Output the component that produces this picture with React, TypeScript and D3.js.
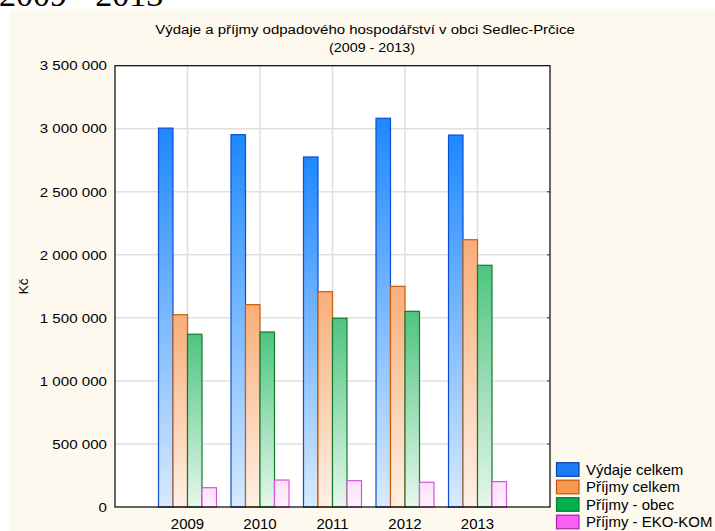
import React from "react";
import * as d3 from "d3";

const years = [2009, 2010, 2011, 2012, 2013];
const seriesNames = ["Výdaje celkem", "Příjmy celkem", "Příjmy - obec", "Příjmy - EKO-KOM"];
const vydajeCelkem = [3005000, 2953000, 2776000, 3083000, 2950000];
const prijmyCelkem = [1525000, 1605000, 1708000, 1750000, 2120000];
const prijmyObec = [1370000, 1388000, 1497000, 1552000, 1917000];
const prijmyEkoKom = [153000, 214000, 209000, 196000, 201000];
const yTicks = [0, 500000, 1000000, 1500000, 2000000, 2500000, 3000000, 3500000];

const series = [vydajeCelkem, prijmyCelkem, prijmyObec, prijmyEkoKom];
const gradTop = ["#1e88ff", "#f9ae78", "#4fc480", "#fde0fa"];
const gradBottom = ["#d8eafe", "#fff0e6", "#e6f7ec", "#fff2fd"];
const strokes = ["#0a4fd0", "#c8600e", "#127a2a", "#d455d8"];
const legendFill = ["#1a7df5", "#f79a50", "#00b04f", "#f95ff5"];
const legendStroke = ["#0a3fb0", "#c0560c", "#0a7a30", "#b020b0"];

const W = 715, H = 531;
const L = 115, R = 550, T = 65.7, B = 507;
const FONT = "'Liberation Sans', Arial, Helvetica, sans-serif";

function Txt(props: { x: number; y: number; anchor?: string; size: number; sx?: number; dy?: string; children: React.ReactNode }) {
  const { x, y, anchor = "start", size, sx = 1.1, dy, children } = props;
  return (
    <g transform={`translate(${x},${y}) scale(${sx},1)`}>
      <text x={0} y={0} dy={dy} textAnchor={anchor} fontFamily={FONT} fontSize={size} fill="#000">{children}</text>
    </g>
  );
}

export default function App() {
  const x = d3.scaleLinear().domain([2008, 2014]).range([L, R]);
  const y = d3.scaleLinear().domain([0, 3500000]).range([B, T]);
  const step = x(2009) - x(2008);
  const bw = step * 0.2;
  const fmt = (v: number) => d3.format(",")(v).replace(/,/g, " ");
  return (
    <div style={{ position: "absolute", left: 0, top: 0 }}>
      <svg width={W} height={H} style={{ display: "block" }}>
        <defs>
          {series.map((_, i) => (
            <linearGradient key={i} id={`g${i}`} x1="0" y1="0" x2="0" y2="1">
              <stop offset="0" stopColor={gradTop[i]} />
              <stop offset="1" stopColor={gradBottom[i]} />
            </linearGradient>
          ))}
        </defs>
        <rect x={0} y={0} width={W} height={H} fill="#ffffff" />
        <text x={-1} y={6} fontFamily="'Liberation Serif', 'Times New Roman', serif" fontSize={34} fill="#000">2009 - 2013</text>
        <rect x={9} y={9} width={W - 9} height={H - 9} fill="#fdf9ee" />
        <rect x={L} y={T} width={R - L} height={B - T} fill="#ffffff" />
        {yTicks.slice(1, -1).map((t) => (
          <line key={t} x1={L} x2={R} y1={y(t)} y2={y(t)} stroke="#e0e0e0" strokeWidth={1.5} />
        ))}
        {years.map((yr) => (
          <line key={yr} x1={x(yr)} x2={x(yr)} y1={T} y2={B} stroke="#e0e0e0" strokeWidth={1.5} />
        ))}
        {years.map((yr, j) =>
          series.map((s, i) => {
            const x0 = x(yr) - 2 * bw + i * bw;
            return (
              <rect key={`${yr}-${i}`} x={x0} y={y(s[j])} width={bw} height={B - y(s[j])}
                fill={`url(#g${i})`} stroke={strokes[i]} strokeWidth={1.2} />
            );
          })
        )}
        <rect x={L} y={T} width={R - L} height={B - T} fill="none" stroke="#000" strokeWidth={1.2} />
        {yTicks.slice(1, -1).map((t) => (
          <line key={`rt${t}`} x1={R - 3} x2={R} y1={y(t)} y2={y(t)} stroke="#333" strokeWidth={1} />
        ))}
        {yTicks.map((t) => (
          <Txt key={`yl${t}`} x={107} y={y(t)} dy="0.35em" anchor="end" size={13.5} sx={1.12}>{fmt(t)}</Txt>
        ))}
        {years.map((yr) => (
          <Txt key={`xl${yr}`} x={x(yr)} y={529} anchor="middle" size={14} sx={1.07}>{yr}</Txt>
        ))}
        <g transform={`translate(28,${(T + B) / 2}) rotate(-90)`}>
          <text x={0} y={0} textAnchor="middle" fontFamily={FONT} fontSize={13.5} fill="#000">Kč</text>
        </g>
        <Txt x={365} y={34} anchor="middle" size={13.5} sx={1.11}>Výdaje a příjmy odpadového hospodářství v obci Sedlec-Prčice</Txt>
        <Txt x={372} y={52} anchor="middle" size={13.5} sx={1.06}>(2009 - 2013)</Txt>
        {seriesNames.map((n, i) => {
          const cy = 469.5 + i * 17.5;
          return (
            <g key={n}>
              <rect x={556.5} y={cy - 6.8} width={22.5} height={13.6} fill={legendFill[i]} stroke={legendStroke[i]} strokeWidth={1.2} />
              <Txt x={586} y={cy} dy="0.36em" size={14} sx={1.07}>{n}</Txt>
            </g>
          );
        })}
      </svg>
    </div>
  );
}
